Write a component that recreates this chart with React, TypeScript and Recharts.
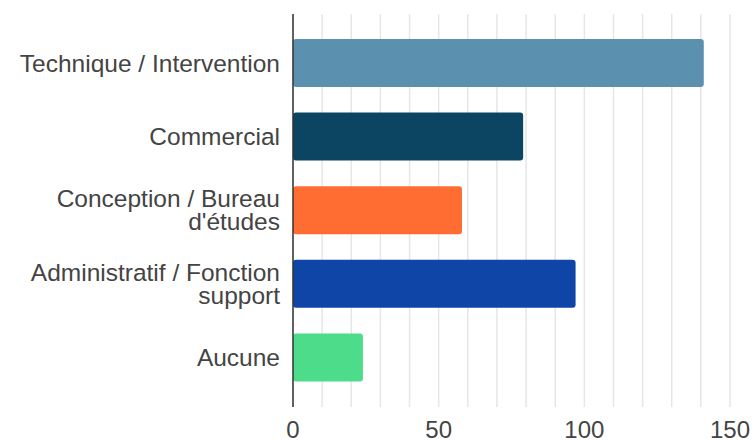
import React from 'react';
import { BarChart, Bar, XAxis, YAxis, CartesianGrid, Cell } from 'recharts';

const categories = [
  'Technique / Intervention',
  'Commercial',
  'Conception / Bureau d\'études',
  'Administratif / Fonction support',
  'Aucune',
];
const counts = [141, 79, 58, 97, 24];
const barColors = ['#5b91ae', '#0b4562', '#ff6d33', '#1045a8', '#4ddd8a'];
const xTicks = [0, 50, 100, 150];
const gridValues = [0, 10, 20, 30, 40, 50, 60, 70, 80, 90, 100, 110, 120, 130, 140, 150];

const data = categories.map((name, i) => ({ name, value: counts[i] }));

const FONT = '"Liberation Sans", Arial, sans-serif';
const LABEL_SIZE = 24.5;
const LABEL_WIDTH = 270;

let ctx: CanvasRenderingContext2D | null = null;
function measure(s: string) {
  if (!ctx) ctx = document.createElement('canvas').getContext('2d');
  if (!ctx) return s.length * LABEL_SIZE * 0.5;
  ctx.font = `${LABEL_SIZE}px ${FONT}`;
  return ctx.measureText(s).width;
}

function wrap(label: string) {
  const words = label.split(' ');
  const lines: string[] = [];
  let cur = '';
  words.forEach((w) => {
    const next = cur ? cur + ' ' + w : w;
    if (cur && measure(next) > LABEL_WIDTH) {
      lines.push(cur);
      cur = w;
    } else {
      cur = next;
    }
  });
  if (cur) lines.push(cur);
  return lines;
}

function CategoryTick(props: any) {
  const { x, y, payload } = props;
  const lines = wrap(payload.value);
  const lh = 23;
  const start = -((lines.length - 1) * lh) / 2;
  return (
    <text
      x={x}
      y={y}
      textAnchor="end"
      fill="#444"
      style={{ fontSize: LABEL_SIZE, fontFamily: FONT }}
    >
      {lines.map((l, i) => (
        <tspan key={i} x={x} y={y + start + i * lh} dy="0.36em">
          {l}
        </tspan>
      ))}
    </text>
  );
}

export default function App() {
  return (
    <div style={{ position: 'absolute', left: 0, top: 0, background: '#fff' }}>
      <BarChart
        width={753}
        height={441}
        data={data}
        layout="vertical"
        margin={{ top: 14, right: 23, bottom: 0, left: 0 }}
      >
        <CartesianGrid
          horizontal={false}
          verticalValues={gridValues}
          stroke="#e6e6e6"
          strokeWidth={1.5}
        />
        <XAxis
          type="number"
          domain={[0, 150]}
          ticks={xTicks}
          height={34}
          axisLine={false}
          tickLine={false}
          tickSize={0}
          tickMargin={14}
          tick={{ fontSize: 24, fill: '#444', fontFamily: FONT }}
        />
        <YAxis
          type="category"
          dataKey="name"
          width={293}
          padding={{ top: 12, bottom: 13 }}
          tickLine={false}
          tickSize={0}
          tickMargin={13}
          axisLine={{ stroke: '#333', strokeWidth: 1.5 }}
          tick={<CategoryTick />}
        />
        <Bar dataKey="value" barSize={48} radius={3} isAnimationActive={false}>
          {data.map((d, i) => (
            <Cell key={d.name} fill={barColors[i]} />
          ))}
        </Bar>
      </BarChart>
    </div>
  );
}
